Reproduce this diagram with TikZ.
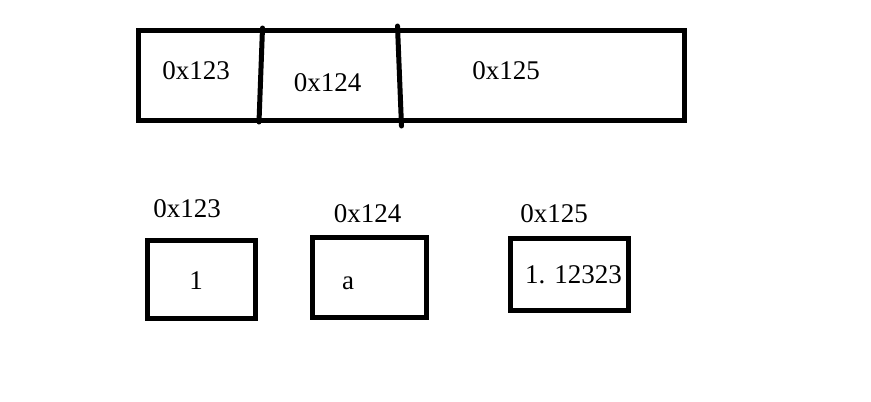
\documentclass[tikz,border=0pt]{standalone}
\usepackage{fontspec}
\setmainfont{Liberation Serif}

\begin{document}
\begin{tikzpicture}[x=1pt,y=-1pt,
  cell/.style={draw,line width=5pt,inner sep=0pt},
  thick line/.style={line width=5pt},
  addr/.style={anchor=base,font=\fontsize{27}{30}\selectfont}]
  \useasboundingbox (0,0) rectangle (871,402);

  % memory strip at the top
  \draw[thick line] (138.5,30) rectangle (684.5,120);
  \coordinate (cutAtop) at (262.5,28);
  \coordinate (cutAbot) at (259,122);
  \coordinate (cutBtop) at (397.5,26);
  \coordinate (cutBbot) at (401.5,126);
  \draw[thick line,line cap=round] (cutAtop) -- (cutAbot);
  \draw[thick line,line cap=round] (cutBtop) -- (cutBbot);

  \node[addr] (stripA) at (196,79) {0x123};
  \node[addr] (stripB) at (327.5,91) {0x124};
  \node[addr] (stripC) at (506,79) {0x125};

  % single cells below
  \node[cell,minimum width=108pt,minimum height=78pt] (cellA) at (201.5,279.5) {};
  \node[cell,minimum width=114pt,minimum height=80pt] (cellB) at (369.5,277.5) {};
  \node[cell,minimum width=118pt,minimum height=72pt] (cellC) at (569.5,274.5) {};

  \node[addr] (nameA) at (187,217) {0x123};
  \node[addr] (nameB) at (367.5,222) {0x124};
  \node[addr] (nameC) at (554,222) {0x125};

  \node[addr] (valA) at (196,289) {1};
  \node[addr] (valB) at (348,289) {a};
  \node[addr] (valC) at (573.5,283) {1.\hspace{9pt}12323};

\end{tikzpicture}
\end{document}
